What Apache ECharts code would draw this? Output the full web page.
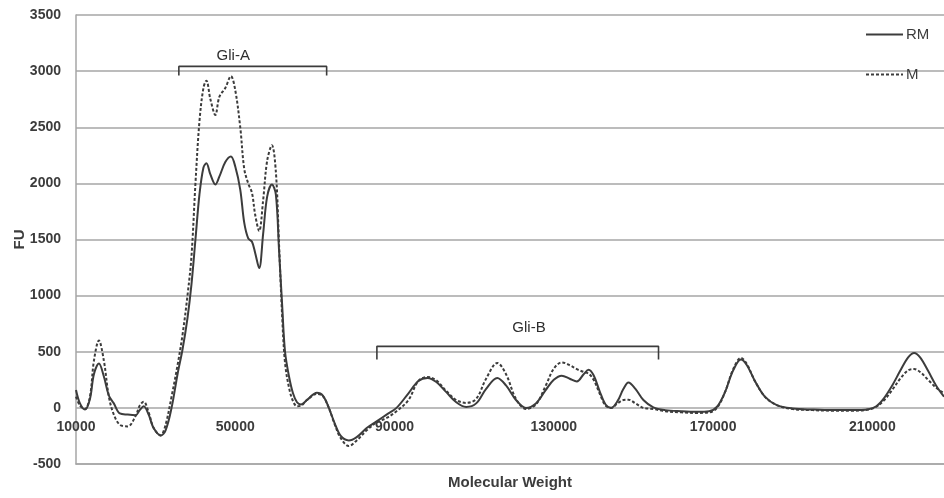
<!DOCTYPE html>
<html>
<head>
<meta charset="utf-8">
<style>
  html, body { margin: 0; padding: 0; background: #ffffff; }
  #chart { width: 944px; height: 498px; }
</style>
<script src="https://cdn.jsdelivr.net/npm/echarts@6/dist/echarts.min.js"></script>
</head>
<body>
<div id="chart"></div>
<script>
// Molecular weight sample positions (shared by both traces)
const molecularWeight = [
  10000, 11000, 12250, 13500, 14500, 15750, 17000, 18250, 19500, 21000,
  23000, 25000, 26000, 27000, 28250, 29500, 31250, 32500, 34000, 35500,
  36750, 38000, 39000, 40000, 41000, 42000, 42750, 43750, 45000, 46000,
  47500, 48900, 50000, 51250, 52250, 53250, 54200, 55000, 56000, 57000,
  58000, 59200, 60200, 61000, 61800, 62500, 63500, 64500, 65500, 66500,
  68000, 70500, 72000, 73500, 75000, 76500, 78500, 80500, 83000, 85500,
  88000, 90500, 93500, 96000, 98300, 100500, 103000, 105500, 108000, 110500,
  113000, 115800, 118000, 120500, 123000, 125500, 128000, 130000, 132000, 134000,
  135800, 137500, 138750, 140000, 141500, 143000, 144400, 146000, 147500, 148750,
  150500, 152500, 155000, 158000, 162000, 166000, 169000, 171000, 173000, 175000,
  177000, 178500, 180500, 183000, 186000, 190000, 195000, 200000, 205000, 209000,
  211000, 213000, 215000, 217000, 219000, 220500, 222000, 224000, 226000, 228000
];

// Fluorescence units, RM sample (solid trace)
const fuRM = [
  160, 40, -15, 80, 300, 395, 280, 110, 40, -50,
  -60, -65, -20, 15, -60, -180, -245, -200, 0, 300,
  520, 800, 1100, 1500, 1900, 2140, 2180, 2080, 1990, 2060,
  2190, 2240, 2150, 1945, 1650, 1510, 1480, 1380, 1245, 1550,
  1880, 1990, 1900, 1400, 900, 500, 280, 130, 50, 30,
  70, 135, 110, 0, -140, -250, -290, -260, -180, -120,
  -60, 0, 130, 240, 266, 230, 140, 50, 8, 40,
  170, 266, 200, 70, 0, 40, 160, 250, 287, 260,
  236, 300, 340, 290, 150, 30, 0, 60, 170, 227,
  170, 70, 5, -20, -30, -35, -30, 10, 140, 330,
  430, 380, 240, 100, 25, -5, -15, -20, -20, -12,
  15, 90, 200, 330, 450, 489, 450, 330, 200, 100
];

// Fluorescence units, M sample (dotted trace)
const fuM = [
  100, 20, -10, 100, 420, 600, 420, 100, -60, -150,
  -165, -70, 20, 55, -40, -180, -245, -150, 100, 380,
  650, 1000, 1350, 2000, 2550, 2850, 2915, 2750, 2610, 2770,
  2850, 2955, 2830, 2500, 2130, 2000, 1915, 1720, 1575, 1850,
  2200, 2340, 2100, 1450, 800, 400, 180, 60, 15, 20,
  70, 125, 105, 0, -150, -270, -340, -290, -200, -130,
  -90, -30, 70, 240, 275, 245, 150, 70, 44, 80,
  260, 400, 300, 80, -10, 30, 200, 350, 405, 380,
  345, 320, 305, 250, 130, 20, 0, 40, 70, 73,
  40, 0, -10, -30, -40, -45, -40, 0, 140, 340,
  445, 390, 240, 100, 25, -10, -20, -25, -25, -15,
  10, 70, 160, 260, 335, 346, 320, 250, 180, 130
];

// Axis ticks
const yTicks = { min: -500, max: 3500, step: 500 };
const xTickLabels = [10000, 50000, 90000, 130000, 170000, 210000];
const xRange = { min: 10000, max: 228000 };

// Fraction brackets (molecular-weight span, FU height)
const gliA = { name: 'Gli-A', from: 35830, to: 72950, top: 3042, foot: 2960, labelX: 49500, labelY: 3135 };
const gliB = { name: 'Gli-B', from: 85570, to: 156300, top: 548, foot: 430, labelX: 123780, labelY: 713 };

const FONT = '"Liberation Sans", Arial, sans-serif';
const INK = '#3c3c3c';
const GRID = '#a6a6a6';

// Plot geometry: the category labels sit just under the FU = 0 line
const PLOT_TOP = 15;
const PLOT_BOTTOM = 34;
const CHART_H = 498;
const plotHeight = CHART_H - PLOT_TOP - PLOT_BOTTOM;
const zeroFromBottom = plotHeight * (0 - yTicks.min) / (yTicks.max - yTicks.min);

function pairs(xs, ys) {
  return xs.map((x, i) => [x, ys[i]]);
}

function plain(v) {
  return String(v);
}

function bracketSeries(b) {
  return {
    type: 'line',
    silent: true,
    symbol: 'none',
    animation: false,
    z: 3,
    lineStyle: { color: INK, width: 1.6 },
    data: [[b.from, b.foot], [b.from, b.top], [b.to, b.top], [b.to, b.foot]]
  };
}

function bracketLabel(b) {
  return {
    type: 'scatter',
    silent: true,
    symbolSize: 0,
    animation: false,
    data: [[b.labelX, b.labelY]],
    label: {
      show: true,
      position: 'inside',
      formatter: b.name,
      fontFamily: FONT,
      fontSize: 15,
      color: '#2e2e2e',
      textBorderWidth: 0,
      opacity: 1
    }
  };
}

const chart = echarts.init(document.getElementById('chart'), null, { renderer: 'canvas' });

chart.setOption({
  animation: false,
  backgroundColor: '#ffffff',
  grid: { left: 76, right: 0, top: PLOT_TOP, bottom: PLOT_BOTTOM, outerBoundsMode: 'none', containLabel: false },
  legend: {
    data: ['RM', 'M'],
    orient: 'vertical',
    left: 860,
    top: 22,
    itemWidth: 37,
    itemHeight: 14,
    itemGap: 25,
    itemStyle: { opacity: 0 },
    textStyle: { fontFamily: FONT, fontSize: 15, color: INK, padding: [0, 0, 0, -2] }
  },
  xAxis: {
    type: 'value',
    min: xRange.min,
    max: xRange.max,
    name: 'Molecular Weight',
    nameLocation: 'middle',
    nameGap: 11,
    nameMoveOverlap: false,
    nameTextStyle: { fontFamily: FONT, fontSize: 15, fontWeight: 'bold', color: INK },
    axisLine: { onZero: false, lineStyle: { color: GRID, width: 1.5 } },
    axisTick: { show: false },
    splitLine: { show: false },
    axisLabel: {
      customValues: xTickLabels,
      formatter: plain,
      margin: 12 - zeroFromBottom,
      fontFamily: FONT,
      fontSize: 14,
      fontWeight: 'bold',
      color: INK
    }
  },
  yAxis: {
    type: 'value',
    min: yTicks.min,
    max: yTicks.max,
    interval: yTicks.step,
    name: 'FU',
    nameLocation: 'middle',
    nameGap: 49,
    nameRotate: 90,
    nameMoveOverlap: false,
    nameTextStyle: { fontFamily: FONT, fontSize: 15, fontWeight: 'bold', color: INK },
    axisLine: { show: true, onZero: false, lineStyle: { color: GRID, width: 1.5 } },
    axisTick: { show: false },
    splitLine: { show: true, lineStyle: { color: GRID, width: 1.5 } },
    axisLabel: {
      formatter: plain,
      margin: 15,
      fontFamily: FONT,
      fontSize: 14,
      fontWeight: 'bold',
      color: INK
    }
  },
  series: [
    {
      name: 'RM',
      type: 'line',
      symbol: 'none',
      smooth: 0.35,
      z: 5,
      lineStyle: { color: INK, width: 2 },
      itemStyle: { color: INK },
      data: pairs(molecularWeight, fuRM)
    },
    {
      name: 'M',
      type: 'line',
      symbol: 'none',
      smooth: 0.35,
      z: 4,
      lineStyle: { color: INK, width: 2, type: [3, 2] },
      itemStyle: { color: INK },
      data: pairs(molecularWeight, fuM)
    },
    bracketSeries(gliA),
    bracketSeries(gliB),
    bracketLabel(gliA),
    bracketLabel(gliB)
  ]
});
</script>
</body>
</html>
